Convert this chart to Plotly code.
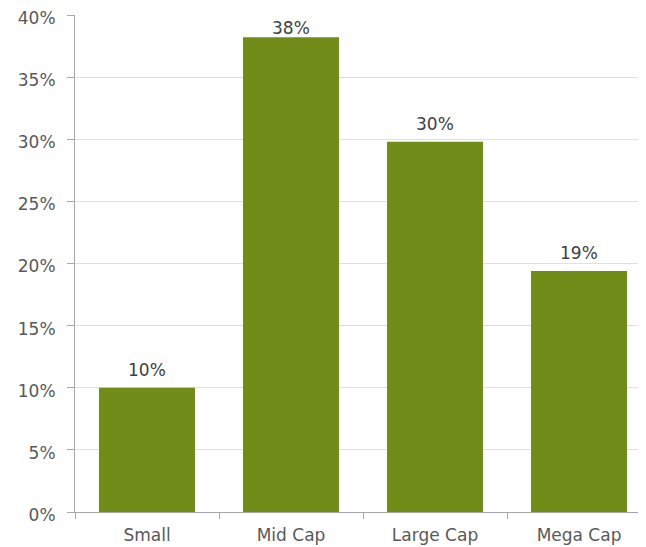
import plotly.graph_objects as go

categories = ["Small", "Mid Cap", "Large Cap", "Mega Cap"]
values = [10.0, 38.2, 29.8, 19.4]
bar_labels = ["10%", "38%", "30%", "19%"]
y_ticks = [0, 5, 10, 15, 20, 25, 30, 35, 40]
y_tick_labels = ["0%", "5%", "10%", "15%", "20%", "25%", "30%", "35%", "40%"]

FONT = "DejaVu Sans, Liberation Sans, Arial, sans-serif"
Y_MAX = 40
PLOT_H = 497  # plot area height in px
ppu = PLOT_H / Y_MAX

fig = go.Figure(go.Bar(
    x=categories,
    y=values,
    cliponaxis=False,
    marker=dict(color="#718c18", line=dict(width=0)),
    width=0.667,
))

# value labels above bars, kept inside the plot area like the original
for cat, val, lab in zip(categories, values, bar_labels):
    ypos = min(val + 18 / ppu, Y_MAX - 13 / ppu)
    fig.add_annotation(
        x=cat, y=ypos, text=lab, showarrow=False,
        xanchor="center", yanchor="middle",
        font=dict(family=FONT, size=17, color="#404040"),
    )

fig.update_layout(
    width=638, height=539,
    margin=dict(l=67, r=0, t=7, b=35),
    paper_bgcolor="white", plot_bgcolor="white",
    font=dict(family=FONT, size=17, color="#595959"),
    showlegend=False,
)
fig.update_xaxes(
    range=[-0.5, 3.465],
    showline=True, linecolor="#a6a6a6", linewidth=1,
    ticks="outside", tickson="boundaries", ticklen=6, tickcolor="#a6a6a6",
    showgrid=False, tickfont=dict(family=FONT, size=17, color="#595959"),
    ticklabelstandoff=8, automargin=False,
)
fig.update_yaxes(
    range=[0, Y_MAX], tickvals=y_ticks, ticktext=y_tick_labels,
    showline=True, linecolor="#a6a6a6", linewidth=1,
    ticks="outside", ticklen=7, tickcolor="#a6a6a6",
    showgrid=True, gridcolor="#e0e0e0", gridwidth=1,
    zeroline=False, tickfont=dict(family=FONT, size=17, color="#595959"),
    ticklabelstandoff=8, ticklabelshift=3,
    ticklabeloverflow="allow", automargin=False,
)

fig.write_html("out.html")
